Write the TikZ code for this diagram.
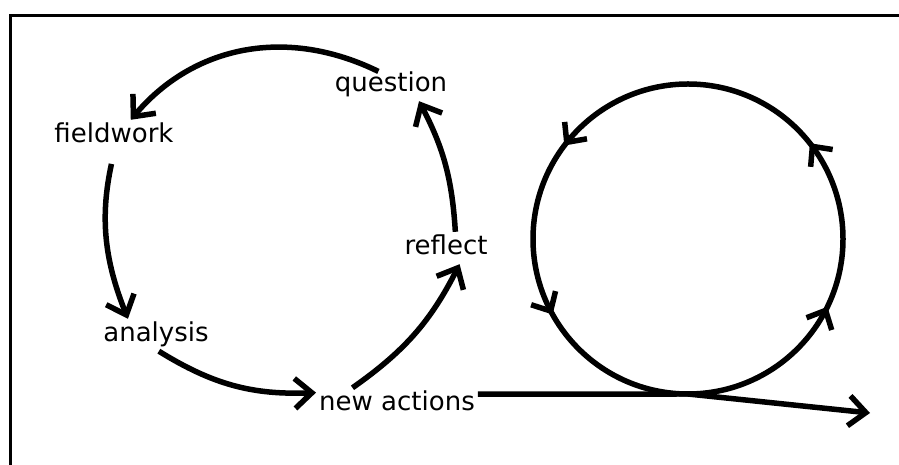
\documentclass[tikz,border=0pt]{standalone}
\usepackage{fontspec}
\setmainfont{DejaVu Sans}
\usetikzlibrary{arrows.meta, decorations.markings}
\tikzset{
  stage/.style={
    font=\fontsize{26}{30}\selectfont,
    text height=20pt,
    text depth=6pt,
    inner sep=3pt,
    anchor=base
  },
  cycarrow/.style={
    -{Straight Barb[length=17pt,width=30pt]},
    line width=5.5pt
  },
  frameline/.style={
    line width=3pt
  }
}

\begin{document}
\begin{tikzpicture}[x=1pt,y=1pt]
  \useasboundingbox (0,0) rectangle (899,465);
  \draw[frameline] (10,0) -- (10,449) -- (899,449);

  % the cycle on the left
  \node[stage] (question) at (391,373) {question};
  \node[stage] (fieldwork) at (114,322) {fieldwork};
  \node[stage] (analysis) at (156,123) {analysis};
  \node[stage] (newact) at (397,54) {new actions};
  \node[stage] (reflect) at (446,210) {reflect};

  \draw[cycarrow, shorten <=-6pt] (question.138) to[bend right=38] (fieldwork.44);
  \draw[cycarrow, shorten <=12pt] (fieldwork.south) to[bend right=17] (analysis.150);
  \draw[cycarrow] (analysis.-80) to[bend right=17] (newact.172);
  \draw[cycarrow] (newact.160) to[bend right=14] (reflect.-50);
  \draw[cycarrow] (reflect.60) to[bend right=12] (question.-30);

  % the loop on the right
  \coordinate (loopbot) at (688,71);
  \coordinate (goal) at (870,52);
  \draw[line width=5.5pt, decoration={markings,
      mark=at position 0.178 with {\arrow{Straight Barb[length=15pt,width=28pt]}},
      mark=at position 0.356 with {\arrow{Straight Barb[length=15pt,width=28pt]}},
      mark=at position 0.647 with {\arrow{Straight Barb[length=15pt,width=28pt]}},
      mark=at position 0.831 with {\arrow{Straight Barb[length=15pt,width=28pt]}}},
    postaction=decorate]
    (loopbot) arc[start angle=-90, end angle=270, radius=155];
  \draw[cycarrow] (newact.7) -- (loopbot) -- (goal);
\end{tikzpicture}
\end{document}
